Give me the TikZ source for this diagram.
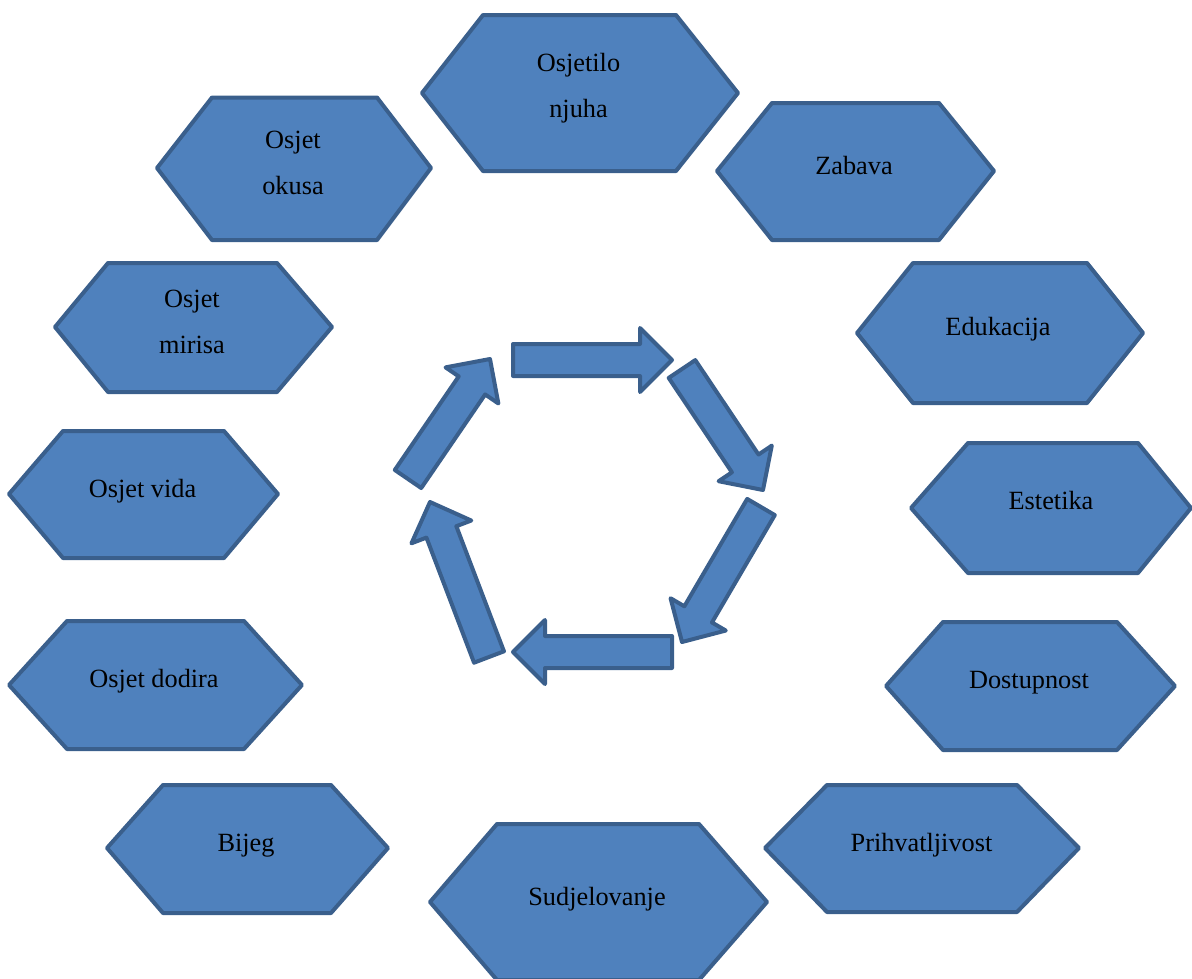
\documentclass[tikz,border=0pt]{standalone}
\usepackage{fontspec}
\setmainfont{Liberation Serif}
\usetikzlibrary{calc}
\definecolor{hexfill}{HTML}{4F81BD}
\definecolor{hexline}{HTML}{3A5F8C}
\tikzset{
  hexa/.style={fill=hexfill, draw=hexline, line width=4pt, line join=round},
  blockarrow/.style={fill=hexfill, draw=hexline, line width=4pt, line join=round},
  lbl/.style={font=\fontsize{26.3}{45.5}\selectfont, align=center, anchor=base, inner sep=0pt},
}
% left x, top-left x, top-right x, right x, top y, middle y, bottom y
\newcommand{\hexshape}[7]{%
  \path[hexa] (#1,#6) -- (#2,#5) -- (#3,#5) -- (#4,#6) -- (#3,#7) -- (#2,#7) -- cycle;}
% tail coordinate, tip coordinate
\newcommand{\cyclearrow}[2]{%
  \coordinate (#1-h) at ($(#2)!32pt!(#1)$);
  \path[blockarrow] ($(#1)!16pt!90:(#2)$) -- ($(#1-h)!16pt!90:(#2)$) -- ($(#1-h)!32pt!90:(#2)$)
    -- (#2) -- ($(#1-h)!32pt!-90:(#2)$) -- ($(#1-h)!16pt!-90:(#2)$) -- ($(#1)!16pt!-90:(#2)$) -- cycle;}
\begin{document}
\begin{tikzpicture}[x=1pt,y=-1pt]
\useasboundingbox (0,0) rectangle (1192,978);
% hexagons
\hexshape{422}{483}{676}{738}{15}{93}{171}
\hexshape{157}{212}{377}{431}{97.5}{168}{240}
\hexshape{717}{772}{939}{994}{103}{171}{240}
\hexshape{55}{108}{277}{332}{263}{327}{392}
\hexshape{857}{913}{1087}{1143}{263}{333}{403}
\hexshape{9}{63}{224}{278}{431}{494}{558}
\hexshape{911}{968}{1138}{1191}{443}{508}{573}
\hexshape{9}{67}{244}{302}{621}{685}{749}
\hexshape{886}{943}{1117}{1175}{622}{686}{750}
\hexshape{107}{163}{331}{388}{785}{848}{913}
\hexshape{765}{827}{1017}{1079}{785}{848}{912}
\hexshape{430}{497}{699}{767}{824}{902}{980}
% labels (base anchor = baseline of the last line)
\node[lbl] (njuha) at (578.5,117) {Osjetilo\\njuha};
\node[lbl] (okusa) at (293,194) {Osjet\\okusa};
\node[lbl] (zabava) at (854,174) {Zabava};
\node[lbl] (mirisa) at (192,353) {Osjet\\mirisa};
\node[lbl] (edukacija) at (998,335) {Edukacija};
\node[lbl] (vida) at (142.5,497) {Osjet vida};
\node[lbl] (estetika) at (1051,509) {Estetika};
\node[lbl] (dodira) at (154,687) {Osjet dodira};
\node[lbl] (dostupnost) at (1029,688) {Dostupnost};
\node[lbl] (bijeg) at (246,851) {Bijeg};
\node[lbl] (prihvat) at (921.5,851) {Prihvatljivost};
\node[lbl] (sudjel) at (597,905) {Sudjelovanje};
% cycle arrows
\coordinate (t1) at (513,360); \coordinate (p1) at (672,360);
\coordinate (t2) at (682,369); \coordinate (p2) at (763,490);
\coordinate (t3) at (761,507); \coordinate (p3) at (682,642);
\coordinate (t4) at (672,652); \coordinate (p4) at (513,652);
\coordinate (t5) at (489,657); \coordinate (p5) at (430,502);
\coordinate (t6) at (408,479); \coordinate (p6) at (490,359);
\cyclearrow{t1}{p1}
\cyclearrow{t2}{p2}
\cyclearrow{t3}{p3}
\cyclearrow{t4}{p4}
\cyclearrow{t5}{p5}
\cyclearrow{t6}{p6}
\end{tikzpicture}
\end{document}
